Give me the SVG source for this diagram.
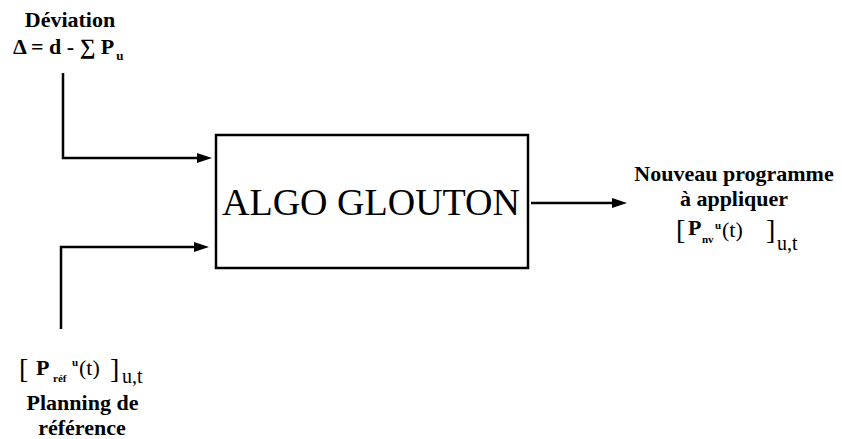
<svg xmlns="http://www.w3.org/2000/svg" width="842" height="439" viewBox="0 0 842 439">
<style>
text{font-family:'Liberation Serif',serif;fill:#000}
.b{font-weight:bold;font-size:22px}
.r{font-size:22px}
.s{font-weight:bold;font-size:11px}
.ut{font-size:20px}
.br{font-size:28px}
.c{fill:none;stroke:#000;stroke-width:2.5}
</style>
<defs>
<marker id="ah" markerUnits="userSpaceOnUse" markerWidth="15" markerHeight="10" refX="5" refY="5" orient="auto">
<path d="M0,0 L15,5 L0,10 z" fill="#000"/>
</marker>
</defs>
<rect width="842" height="439" fill="#fff"/>
<g id="connectors">
<path class="c" d="M63,73 V158 H202" marker-end="url(#ah)"/>
<path class="c" d="M61,329 V247 H199" marker-end="url(#ah)"/>
<path class="c" d="M531,203 H617" marker-end="url(#ah)"/>
</g>
<g id="algo">
<rect x="216" y="135" width="312" height="133" fill="#fff" stroke="#000" stroke-width="2.5"/>
<text x="371" y="215" text-anchor="middle" font-size="38">ALGO GLOUTON</text>
</g>
<g id="deviation">
<text class="b" x="70" y="27" text-anchor="middle">Déviation</text>
<text class="b" x="13" y="54">Δ = d - ∑ P<tspan font-size="13" dx="2" dy="6">u</tspan></text>
</g>
<g id="planning">
<text class="br" x="19" y="378">[</text>
<text class="b" x="36" y="375">P</text>
<text class="s" x="53" y="382">réf</text>
<text class="s" x="72" y="366">u</text>
<text class="r" x="79" y="375">(t)</text>
<text class="br" x="110" y="378">]</text>
<text class="ut" x="122" y="383">u,t</text>
<text class="b" x="82.5" y="410" text-anchor="middle">Planning de</text>
<text class="b" x="82" y="435" text-anchor="middle">référence</text>
</g>
<g id="nouveau">
<text class="b" x="734" y="181" text-anchor="middle">Nouveau programme</text>
<text class="b" x="734" y="206" text-anchor="middle">à appliquer</text>
<text class="br" x="676" y="239">[</text>
<text class="b" x="688" y="235">P</text>
<text class="s" x="702" y="243">nv</text>
<text class="s" x="715" y="229">u</text>
<text class="r" x="722" y="237">(t)</text>
<text class="br" x="766" y="239">]</text>
<text class="ut" x="777" y="250">u,t</text>
</g>
</svg>
